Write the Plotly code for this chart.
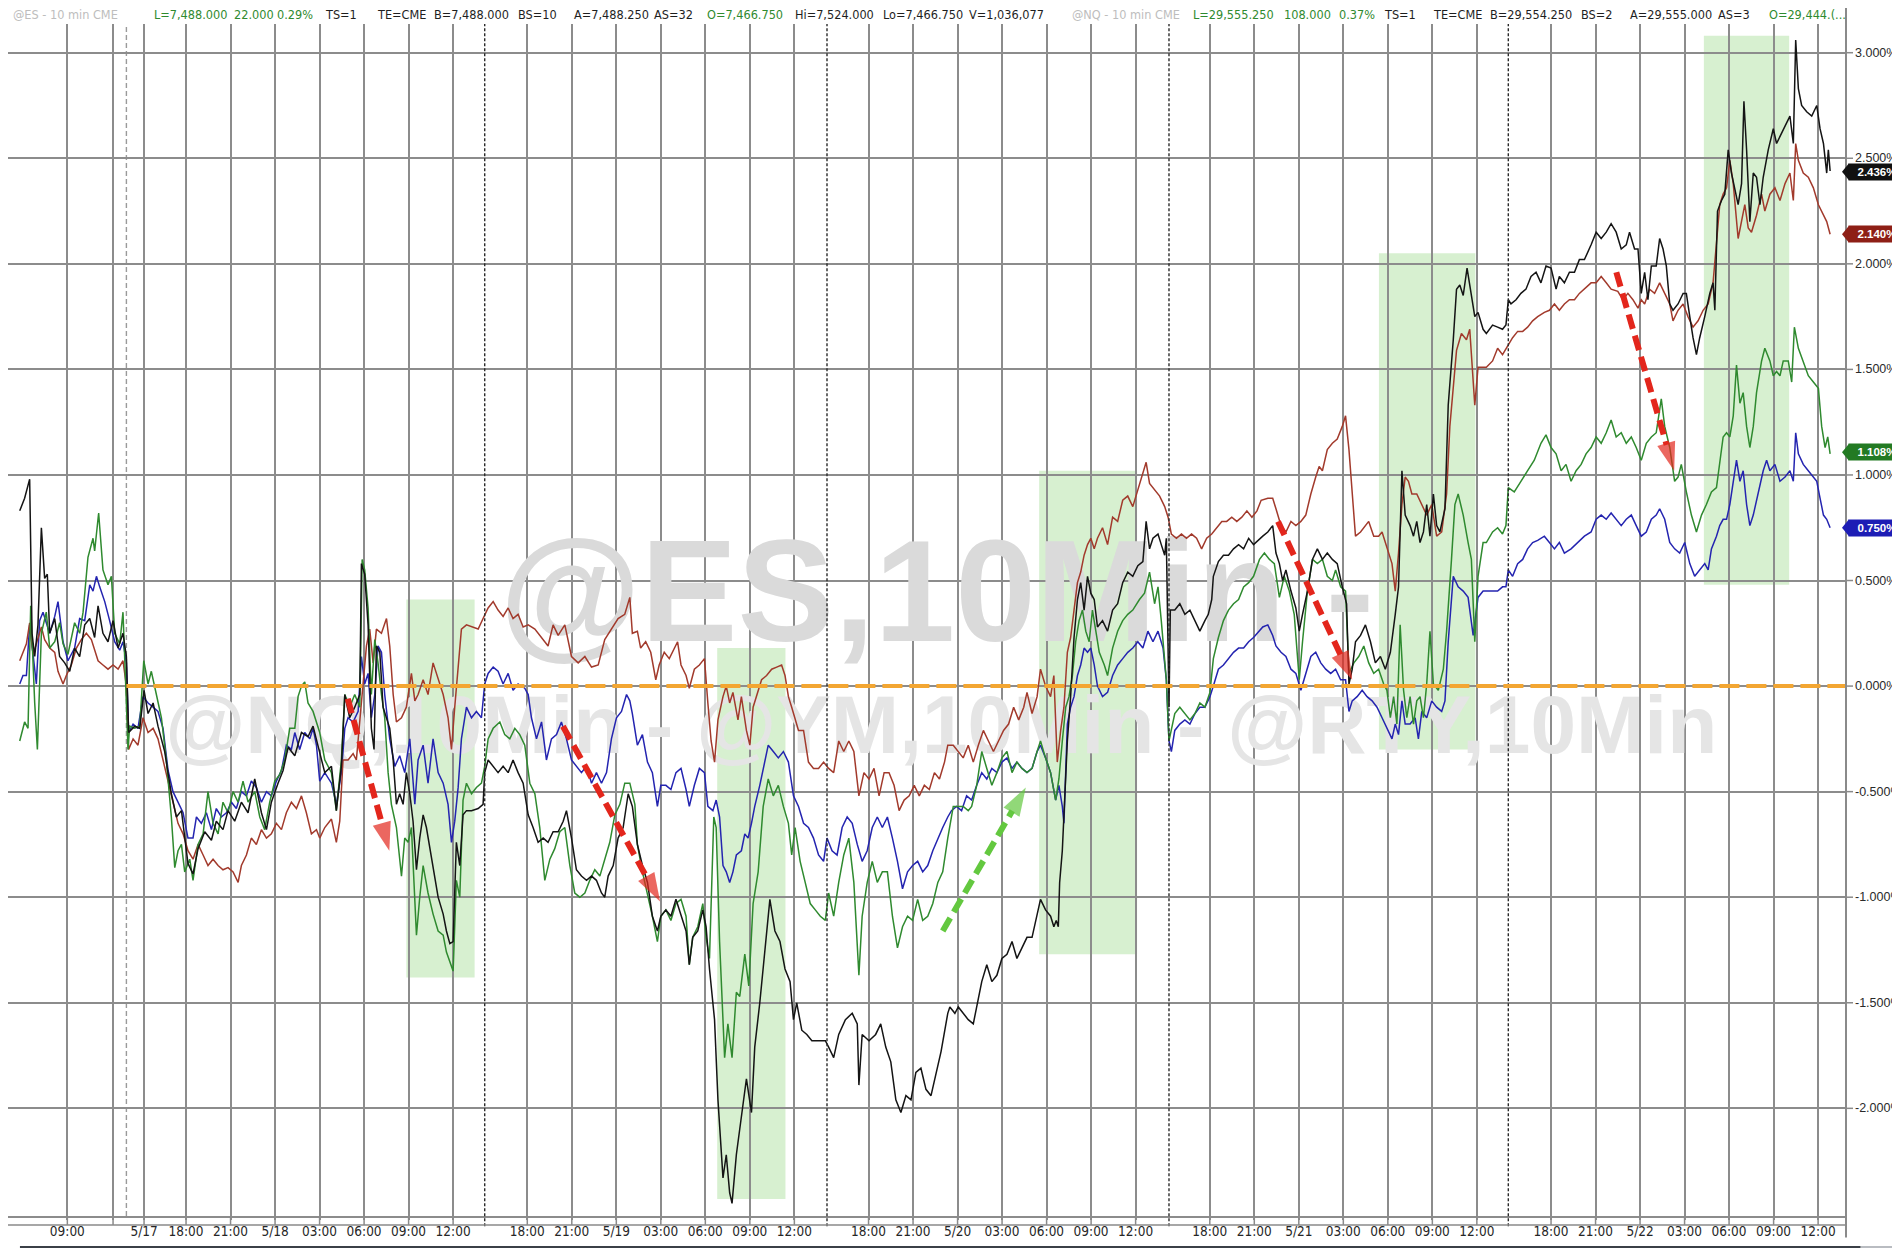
import plotly.graph_objects as go

# ---------------- data (hours of trading time since Sun 18:00, % change) ----------------
NQ_PTS = [
(-11.21,0.83),(-10.88,0.89),(-10.54,0.98),(-10.38,0.25),(-10.20,0.14),(-9.98,0.29),(-9.75,0.75),(-9.53,0.51),(-9.35,0.53),(-9.19,0.25),(-8.85,0.32),(-8.52,0.14),(-8.18,0.11),(-7.84,0.07),(-7.51,0.18),(-7.17,0.14),(-6.83,0.29),(-6.49,0.32),(-6.16,0.23),(-5.93,0.38),(-5.60,0.25),(-5.26,0.21),(-4.92,0.31),(-4.58,0.18),(-4.25,0.25),(-4.02,0.14),(-3.87,-0.22),(-3.46,-0.19),(-3.12,-0.20),(-2.83,-0.02),(-2.56,-0.13),(-2.22,-0.08),(-1.89,-0.19),(-1.44,-0.31),(-0.99,-0.51),(-0.65,-0.62),(-0.31,-0.59),(0.13,-0.84),(0.47,-0.89),(0.81,-0.77),(1.26,-0.69),(1.71,-0.73),(2.04,-0.64),(2.49,-0.68),(2.83,-0.59),(3.28,-0.64),(3.73,-0.55),(4.18,-0.60),(4.63,-0.44),(5.08,-0.60),(5.42,-0.68),(5.75,-0.55),(6.20,-0.46),(6.54,-0.40),(6.88,-0.29),(7.33,-0.33),(7.78,-0.22),(8.22,-0.24),(8.56,-0.19),(9.01,-0.31),
(9.35,-0.41),(9.80,-0.38),(10.13,-0.59),(10.47,-0.38),(10.70,-0.04),(11.03,-0.15),(11.37,-0.10),(11.71,-0.04),(11.82,0.58),(12.04,0.53),(12.27,0.29),(12.49,-0.20),(12.67,-0.30),(12.83,0.19),(13.06,0.16),(13.28,-0.10),(13.51,-0.15),(13.73,-0.20),(13.96,-0.35),(14.18,-0.56),(14.40,-0.51),(14.63,-0.56),(14.85,-0.41),(15.08,-0.51),(15.30,-0.64),(15.53,-0.87),(15.75,-0.72),(15.98,-0.61),(16.20,-0.67),(16.43,-0.77),(16.65,-0.87),(16.99,-1.00),(17.33,-1.08),(17.55,-1.16),(17.78,-1.22),(18.00,-1.21),(18.22,-0.74),(18.45,-0.85),(18.67,-0.61),(18.90,-0.59),(19.24,-0.59),(19.69,-0.58),(20.02,-0.56),(20.13,-0.41),(20.36,-0.35),(20.70,-0.38),(21.03,-0.41),(21.37,-0.38),(21.71,-0.41),(22.04,-0.35),(22.38,-0.41),(22.72,-0.46),(23.06,-0.61),(23.39,-0.67),(23.73,-0.74),(24.07,-0.72),(24.40,-0.74),(24.74,-0.69),(25.08,-0.69),(25.42,-0.64),(25.64,-0.59),(25.98,-0.72),(26.31,-0.87),(26.65,-0.90),(26.99,-0.92),(27.33,-0.90),(27.66,-0.92),(28.00,-0.98),(28.22,-1.00),(28.45,-0.90),(28.79,-0.85),(29.12,-0.72),(29.46,-0.67),(29.80,-0.51),
(30.08,-0.57),(30.42,-0.75),(30.76,-0.85),(31.10,-0.93),(31.43,-1.09),(31.77,-1.16),(32.00,-1.09),(32.34,-1.06),(32.68,-1.09),(33.02,-1.01),(33.36,-1.09),(33.70,-1.16),(33.92,-1.32),(34.15,-1.19),(34.49,-1.16),(34.83,-1.06),(35.05,-1.14),(35.28,-1.34),(35.62,-1.58),(35.85,-1.96),(36.19,-2.33),(36.41,-2.22),(36.64,-2.40),(36.80,-2.45),(37.09,-2.22),(37.43,-2.04),(37.77,-1.86),(38.11,-2.02),(38.33,-1.71),(38.67,-1.50),(39.01,-1.24),(39.35,-1.01),(39.69,-1.16),(40.03,-1.21),(40.37,-1.34),(40.71,-1.40),(40.94,-1.58),(41.16,-1.50),(41.50,-1.63),(41.84,-1.65),(42.18,-1.68),(42.63,-1.68),(43.09,-1.68),(43.31,-1.71),(43.65,-1.76),(43.99,-1.65),(44.44,-1.58),(44.90,-1.55),(45.24,-1.60),(45.35,-1.89),(45.57,-1.65),(46.03,-1.68),(46.48,-1.65),(46.82,-1.60),(47.16,-1.71),(47.50,-1.78),(47.84,-1.96),(48.18,-2.02),(48.52,-1.94),(48.86,-1.96),(49.19,-1.83),(49.53,-1.81),(49.87,-1.91),(50.21,-1.94),(50.55,-1.83),(50.89,-1.73),(51.34,-1.55),
(51.48,-1.52),(51.82,-1.55),(52.05,-1.52),(52.38,-1.55),(52.72,-1.58),(53.06,-1.60),(53.29,-1.52),(53.63,-1.40),(53.97,-1.32),(54.31,-1.40),(54.65,-1.37),(54.99,-1.29),(55.33,-1.27),(55.67,-1.21),(56.00,-1.29),(56.34,-1.24),(56.68,-1.19),(57.02,-1.19),(57.36,-1.09),(57.59,-1.01),(57.93,-1.06),(58.27,-1.09),(58.49,-1.14),(58.65,-1.11),(58.79,-1.14),(58.88,-0.93),(59.06,-0.78),(59.24,-0.52),(59.40,-0.26),(59.62,-0.05),(59.85,0.23),(60.08,0.41),(60.30,0.49),(60.53,0.36),(60.76,0.52),(60.98,0.44),(61.21,0.41),(61.43,0.28),(61.77,0.31),(62.11,0.26),(62.45,0.36),(62.79,0.39),(63.13,0.49),(63.47,0.54),(63.81,0.52),(64.15,0.57),(64.49,0.59),(64.71,0.78),(64.94,0.65),(65.17,0.70),(65.51,0.72),(65.73,0.67),(65.96,0.62),(66.07,0.70),(66.16,0.31),(66.25,-0.10),(66.34,0.36),(66.64,0.36),(66.98,0.39),(67.32,0.34),(67.66,0.36),(68.00,0.31),(68.33,0.26),(68.67,0.31),(68.90,0.34),(69.13,0.41),(69.24,0.52),(69.58,0.59),(69.92,0.62),(70.26,0.62),(70.60,0.65),(70.94,0.67),(71.28,0.65),(71.62,0.70),(71.95,0.67),
(72.57,0.71),(72.91,0.73),(73.24,0.76),(73.46,0.63),(73.69,0.58),(73.91,0.50),(74.13,0.55),(74.47,0.45),(74.80,0.37),(75.03,0.26),(75.25,0.34),(75.58,0.45),(75.92,0.60),(76.25,0.65),(76.59,0.60),(76.92,0.63),(77.26,0.60),(77.59,0.58),(77.93,0.47),(78.22,0.39),(78.38,0.01),(78.60,0.08),(78.82,0.21),(79.16,0.24),(79.49,0.29),(79.83,0.21),(80.16,0.11),(80.50,0.14),(80.83,0.08),(81.17,0.16),(81.50,0.34),(81.72,0.47),(81.95,1.02),(82.17,0.81),(82.50,0.76),(82.73,0.71),(82.95,0.78),(83.17,0.68),(83.40,0.73),(83.62,0.86),(83.84,0.71),(84.07,0.91),(84.29,0.76),(84.51,0.73),(84.85,0.84),(85.07,1.33),(85.41,1.64),(85.63,1.88),(85.85,1.90),(86.08,1.85),(86.34,1.98),(86.63,1.85),(86.86,1.75),(87.08,1.77),(87.42,1.69),(87.64,1.67),
(88.06,1.71),(88.40,1.70),(88.73,1.69),(88.96,1.71),(89.12,1.83),(89.30,1.81),(89.64,1.83),(89.97,1.86),(90.31,1.88),(90.65,1.94),(90.99,1.96),(91.32,1.91),(91.66,1.99),(92.00,1.98),(92.34,1.88),(92.56,1.94),(92.90,1.91),(93.24,1.96),(93.58,1.96),(93.91,2.02),(94.25,2.02),(94.70,2.09),(95.04,2.15),(95.38,2.12),(95.72,2.15),(96.05,2.19),(96.39,2.15),(96.73,2.07),(97.07,2.09),(97.29,2.15),(97.63,2.07),(97.86,2.07),(98.08,1.86),(98.31,1.96),(98.53,1.83),(98.76,1.99),(99.09,1.99),(99.32,2.12),(99.55,2.07),(99.77,1.99),(100.00,1.81),(100.22,1.78),(100.56,1.81),(100.90,1.86),(101.12,1.86),(101.35,1.75),(101.57,1.65),(101.80,1.57),(102.02,1.65),(102.36,1.75),(102.70,1.86),(102.92,1.91),(103.04,1.78),(103.22,2.25),(103.49,2.30),(103.71,2.33),(103.94,2.54),(104.16,2.43),(104.39,2.36),(104.61,2.28),(104.84,2.38),(105.00,2.77),(105.18,2.54),(105.40,2.20),(105.63,2.43),(105.85,2.41),(106.08,2.28),(106.30,2.41),(106.64,2.54),(106.98,2.64),(107.20,2.57),(107.54,2.62),(107.88,2.67),(108.10,2.70),(108.33,2.57),(108.49,3.06),(108.67,2.83),(108.89,2.75),(109.23,2.72),(109.57,2.70),(109.91,2.75),(110.13,2.64),(110.36,2.57),(110.58,2.43),(110.69,2.54),(110.81,2.44)
]

ES_PTS = [
(-11.21,0.12),(-10.99,0.16),(-10.76,0.20),(-10.54,0.30),(-10.31,0.15),(-10.09,0.20),(-9.75,0.28),(-9.53,0.22),(-9.19,0.18),(-8.85,0.16),(-8.63,0.07),(-8.29,0.01),(-8.07,0.05),(-7.73,0.10),(-7.39,0.18),(-7.06,0.22),(-6.72,0.25),(-6.38,0.22),(-6.16,0.17),(-5.93,0.12),(-5.60,0.10),(-5.26,0.08),(-4.92,0.10),(-4.58,0.08),(-4.25,0.12),(-4.02,0.00),(-3.87,-0.30),(-3.57,-0.25),(-3.24,-0.28),(-2.90,-0.15),(-2.56,-0.22),(-2.22,-0.20),(-1.89,-0.25),(-1.55,-0.35),(-1.21,-0.45),(-0.88,-0.55),(-0.54,-0.65),(-0.20,-0.70),(0.13,-0.78),(0.47,-0.82),(0.81,-0.75),(1.15,-0.80),(1.48,-0.85),(1.82,-0.82),(2.16,-0.85),(2.49,-0.87),(2.83,-0.86),(3.17,-0.88),(3.51,-0.93),(3.73,-0.85),(4.07,-0.80),(4.40,-0.72),(4.74,-0.75),(5.08,-0.68),(5.42,-0.72),(5.75,-0.70),(6.09,-0.65),(6.43,-0.68),(6.76,-0.60),(7.10,-0.55),(7.44,-0.58),(7.78,-0.52),(8.11,-0.60),(8.45,-0.70),(8.79,-0.68),(9.01,-0.72),
(9.35,-0.67),(9.80,-0.63),(10.13,-0.74),(10.36,-0.64),(10.58,-0.35),(10.92,-0.35),(11.26,-0.32),(11.48,-0.35),(11.71,-0.15),(11.93,0.01),(12.16,0.19),(12.38,0.27),(12.61,0.11),(12.83,0.27),(13.17,0.25),(13.51,0.32),(13.73,0.19),(13.96,-0.04),(14.18,-0.17),(14.52,-0.15),(14.85,-0.10),(15.19,0.06),(15.42,-0.07),(15.64,-0.04),(15.98,0.03),(16.31,-0.04),(16.65,0.11),(16.99,0.03),(17.33,-0.04),(17.66,-0.15),(17.89,-0.30),(18.11,-0.10),(18.34,0.11),(18.56,0.27),(18.90,0.29),(19.24,0.28),(19.69,0.27),(20.02,0.32),(20.36,0.37),(20.70,0.40),(21.03,0.36),(21.37,0.33),(21.71,0.37),(22.04,0.32),(22.38,0.34),(22.72,0.28),(23.06,0.29),(23.51,0.27),(23.96,0.23),(24.40,0.19),(24.74,0.29),(25.08,0.24),(25.53,0.29),(25.98,0.14),(26.43,0.11),(26.88,0.14),(27.33,0.09),(27.78,0.10),(28.22,0.22),(28.67,0.27),(29.12,0.32),(29.57,0.34),(29.91,0.42),
(30.08,0.25),(30.42,0.26),(30.64,0.18),(30.98,0.21),(31.32,0.16),(31.66,0.03),(31.89,0.10),(32.23,0.16),(32.57,0.13),(32.90,0.18),(33.13,0.21),(33.36,0.10),(33.70,0.05),(33.92,-0.01),(34.26,0.08),(34.60,0.10),(34.94,0.13),(35.17,-0.08),(35.39,-0.26),(35.62,-0.36),(35.85,-0.16),(36.19,-0.05),(36.41,0.00),(36.64,-0.08),(36.86,-0.03),(37.20,-0.16),(37.43,-0.05),(37.77,-0.21),(38.00,-0.28),(38.22,-0.10),(38.45,-0.05),(38.79,0.03),(39.13,0.05),(39.47,0.08),(39.81,0.09),(40.14,0.10),(40.37,0.05),(40.60,-0.05),(40.82,-0.10),(41.05,-0.16),(41.28,-0.21),(41.62,-0.21),(41.95,-0.36),(42.29,-0.39),(42.63,-0.39),(42.97,-0.36),(43.31,-0.39),(43.65,-0.41),(43.99,-0.26),(44.33,-0.31),(44.67,-0.26),(45.01,-0.31),(45.35,-0.52),(45.69,-0.41),(46.03,-0.44),(46.37,-0.39),(46.71,-0.52),(47.05,-0.41),(47.38,-0.41),(47.72,-0.47),(48.06,-0.59),(48.40,-0.54),(48.74,-0.52),(49.08,-0.47),(49.42,-0.52),(49.76,-0.47),(50.10,-0.49),(50.44,-0.41),(50.78,-0.44),(51.12,-0.36),(51.34,-0.28),
(51.71,-0.28),(52.05,-0.31),(52.38,-0.34),(52.72,-0.28),(53.06,-0.36),(53.40,-0.28),(53.74,-0.21),(54.08,-0.26),(54.42,-0.31),(54.76,-0.26),(55.10,-0.21),(55.44,-0.18),(55.78,-0.10),(56.12,-0.16),(56.46,-0.10),(56.68,-0.03),(57.02,-0.13),(57.36,-0.05),(57.59,0.08),(57.93,0.00),(58.27,-0.05),(58.49,0.05),(58.61,-0.16),(58.72,-0.36),(58.95,-0.21),(59.17,-0.10),(59.40,0.16),(59.62,0.23),(59.85,0.36),(60.08,0.49),(60.30,0.54),(60.53,0.62),(60.76,0.67),(60.98,0.70),(61.21,0.65),(61.43,0.70),(61.77,0.75),(62.11,0.67),(62.45,0.80),(62.79,0.78),(63.13,0.88),(63.47,0.90),(63.81,0.85),(64.15,0.93),(64.38,0.98),(64.71,1.06),(64.94,0.96),(65.28,0.93),(65.62,0.90),(65.96,0.85),(66.19,0.80),(66.41,0.72),(66.75,0.70),(67.09,0.72),(67.43,0.70),(67.77,0.72),(68.11,0.70),(68.45,0.65),(68.79,0.70),(69.13,0.72),(69.47,0.75),(69.81,0.78),(70.14,0.78),(70.48,0.80),(70.82,0.78),(71.16,0.80),(71.50,0.83),(71.84,0.80),(72.18,0.83),
(72.46,0.88),(72.91,0.89),(73.24,0.89),(73.46,0.84),(73.80,0.76),(74.13,0.73),(74.47,0.78),(74.80,0.76),(75.14,0.78),(75.47,0.81),(75.81,0.91),(76.14,0.99),(76.37,1.04),(76.59,1.02),(76.92,1.12),(77.26,1.15),(77.59,1.17),(77.93,1.23),(78.15,1.28),(78.38,1.12),(78.60,0.89),(78.82,0.71),(79.16,0.73),(79.49,0.76),(79.71,0.78),(80.05,0.71),(80.38,0.71),(80.61,0.73),(80.94,0.65),(81.28,0.58),(81.50,0.45),(81.72,0.63),(81.95,0.86),(82.17,0.99),(82.39,0.97),(82.62,0.91),(82.95,0.91),(83.29,0.86),(83.62,0.81),(83.96,0.86),(84.29,0.71),(84.63,0.73),(84.96,0.91),(85.18,1.23),(85.41,1.43),(85.63,1.59),(85.96,1.67),(86.30,1.64),(86.52,1.69),(86.75,1.41),(86.86,1.33),(87.08,1.51),(87.30,1.51),(87.64,1.51),
(88.06,1.54),(88.40,1.60),(88.73,1.57),(89.12,1.62),(89.41,1.65),(89.75,1.68),(90.09,1.68),(90.42,1.70),(90.76,1.73),(91.10,1.75),(91.55,1.77),(91.89,1.78),(92.23,1.81),(92.56,1.78),(92.90,1.81),(93.24,1.83),(93.58,1.83),(93.91,1.86),(94.25,1.88),(94.70,1.91),(95.04,1.91),(95.38,1.94),(95.72,1.91),(96.05,1.88),(96.50,1.87),(96.84,1.83),(97.18,1.86),(97.52,1.83),(97.86,1.79),(98.08,1.83),(98.31,1.81),(98.64,1.88),(98.98,1.86),(99.32,1.91),(99.66,1.86),(100.00,1.81),(100.22,1.73),(100.56,1.78),(100.90,1.81),(101.23,1.75),(101.57,1.70),(101.91,1.73),(102.25,1.78),(102.59,1.81),(102.92,1.91),(103.15,2.12),(103.37,2.28),(103.60,2.33),(103.83,2.36),(104.05,2.49),(104.28,2.38),(104.61,2.12),(104.84,2.20),(105.06,2.28),(105.29,2.17),(105.51,2.15),(105.85,2.23),(106.19,2.33),(106.41,2.25),(106.75,2.33),(107.09,2.36),(107.43,2.30),(107.77,2.38),(108.10,2.43),(108.33,2.30),(108.49,2.57),(108.67,2.49),(109.00,2.43),(109.34,2.41),(109.68,2.36),(110.02,2.28),(110.36,2.23),(110.58,2.20),(110.81,2.14)
]

RTY_PTS = [
(-11.21,-0.26),(-10.88,-0.17),(-10.65,-0.20),(-10.47,0.38),(-10.20,-0.08),(-10.02,-0.30),(-9.75,0.25),(-9.42,0.35),(-9.19,0.18),(-8.85,0.21),(-8.52,0.30),(-8.29,0.20),(-7.96,0.15),(-7.51,0.30),(-7.17,0.25),(-6.94,0.35),(-6.61,0.61),(-6.27,0.70),(-6.16,0.64),(-5.89,0.82),(-5.60,0.55),(-5.26,0.48),(-5.03,0.52),(-4.81,0.25),(-4.47,0.20),(-4.25,0.35),(-4.09,0.05),(-3.91,-0.30),(-3.80,-0.19),(-3.46,-0.20),(-3.12,-0.19),(-2.85,0.12),(-2.56,0.01),(-2.34,0.07),(-2.00,-0.04),(-1.66,-0.15),(-1.33,-0.35),(-0.99,-0.62),(-0.76,-0.86),(-0.54,-0.78),(-0.31,-0.75),(-0.09,-0.88),(0.25,-0.82),(0.47,-0.92),(0.81,-0.75),(1.15,-0.70),(1.48,-0.50),(1.82,-0.65),(2.16,-0.70),(2.49,-0.55),(2.83,-0.60),(3.17,-0.50),(3.51,-0.55),(3.84,-0.45),(4.18,-0.55),(4.63,-0.50),(4.97,-0.62),(5.30,-0.68),(5.64,-0.55),(5.98,-0.45),(6.31,-0.42),(6.65,-0.35),(6.99,-0.20),(7.33,-0.20),(7.55,-0.05),(7.78,0.00),(8.00,0.02),(8.22,-0.08),(8.56,-0.12),(9.01,-0.22),
(9.35,-0.35),(9.80,-0.41),(10.13,-0.59),(10.47,-0.35),(10.70,-0.04),(11.03,-0.10),(11.37,-0.04),(11.71,-0.10),(11.87,0.60),(12.04,0.55),(12.27,0.37),(12.49,-0.04),(12.72,0.22),(12.94,0.11),(13.17,-0.04),(13.39,-0.15),(13.62,-0.41),(13.84,-0.56),(14.18,-0.67),(14.52,-0.90),(14.74,-0.72),(14.97,-0.74),(15.19,-0.67),(15.53,-1.18),(15.75,-1.00),(15.98,-0.85),(16.31,-0.98),(16.65,-1.08),(16.99,-1.16),(17.33,-1.18),(17.55,-1.26),(17.78,-1.31),(18.00,-1.35),(18.22,-0.92),(18.45,-1.00),(18.67,-0.54),(18.90,-0.46),(19.24,-0.51),(19.57,-0.48),(19.91,-0.46),(20.13,-0.38),(20.36,-0.25),(20.70,-0.20),(21.15,-0.17),(21.48,-0.23),(21.82,-0.25),(22.16,-0.20),(22.49,-0.23),(22.83,-0.28),(23.17,-0.46),(23.51,-0.51),(23.84,-0.67),(24.18,-0.92),(24.52,-0.82),(24.85,-0.77),(25.19,-0.69),(25.53,-0.67),(25.87,-0.85),(26.20,-0.98),(26.54,-1.00),(26.88,-0.98),(27.21,-0.92),(27.55,-0.87),(27.89,-0.90),(28.22,-0.82),(28.56,-0.74),(28.90,-0.61),(29.24,-0.56),(29.57,-0.46),(29.91,-0.46),(30.25,-0.56),
(30.42,-0.75),(30.76,-0.88),(31.10,-0.98),(31.43,-1.09),(31.77,-1.21),(32.00,-1.09),(32.34,-1.06),(32.68,-1.11),(33.02,-1.03),(33.36,-1.01),(33.70,-1.09),(33.92,-1.32),(34.15,-1.19),(34.49,-1.14),(34.83,-1.03),(35.05,-1.19),(35.28,-1.29),(35.57,-0.62),(35.73,-0.67),(35.96,-1.21),(36.30,-1.76),(36.52,-1.60),(36.80,-1.76),(37.09,-1.45),(37.32,-1.47),(37.66,-1.27),(37.93,-1.42),(38.22,-1.03),(38.56,-0.88),(38.90,-0.57),(39.24,-0.44),(39.58,-0.52),(39.92,-0.47),(40.26,-0.57),(40.60,-0.65),(40.82,-0.80),(41.05,-0.67),(41.39,-0.83),(41.73,-0.93),(42.07,-1.03),(42.41,-1.06),(42.75,-1.09),(43.09,-1.11),(43.31,-0.98),(43.65,-1.09),(43.99,-0.93),(44.33,-0.80),(44.67,-0.72),(45.01,-0.93),(45.35,-1.37),(45.57,-1.09),(45.91,-0.93),(46.25,-0.83),(46.59,-0.93),(46.93,-0.88),(47.27,-0.88),(47.61,-1.09),(47.95,-1.24),(48.29,-1.14),(48.63,-1.09),(48.97,-1.11),(49.31,-1.01),(49.65,-1.11),(49.99,-1.09),(50.33,-1.03),(50.67,-0.93),(51.00,-0.88),(51.34,-0.72),
(51.71,-0.57),(52.05,-0.57),(52.38,-0.57),(52.72,-0.59),(52.95,-0.57),(53.29,-0.47),(53.63,-0.31),(53.97,-0.39),(54.31,-0.47),(54.65,-0.41),(54.99,-0.34),(55.33,-0.31),(55.67,-0.41),(56.00,-0.36),(56.34,-0.39),(56.68,-0.41),(57.02,-0.39),(57.36,-0.31),(57.59,-0.26),(57.93,-0.34),(58.27,-0.41),(58.61,-0.54),(58.83,-0.44),(59.06,-0.26),(59.29,-0.10),(59.51,-0.05),(59.74,0.05),(59.96,0.21),(60.19,0.31),(60.42,0.36),(60.64,0.26),(60.87,0.21),(61.09,0.36),(61.32,0.26),(61.55,0.16),(61.89,0.10),(62.11,0.05),(62.45,0.18),(62.79,0.26),(63.13,0.31),(63.47,0.34),(63.81,0.36),(64.26,0.41),(64.60,0.44),(64.94,0.54),(65.28,0.39),(65.51,0.47),(65.73,0.31),(66.07,0.03),(66.25,-0.26),(66.41,-0.21),(66.64,-0.13),(66.98,-0.10),(67.32,-0.13),(67.66,-0.16),(68.00,-0.13),(68.33,-0.08),(68.67,-0.10),(69.01,-0.03),(69.24,0.13),(69.58,0.23),(69.92,0.31),(70.26,0.36),(70.60,0.39),(70.94,0.41),(71.28,0.47),(71.62,0.49),(71.95,0.52),
(72.35,0.60),(72.68,0.63),(73.02,0.60),(73.35,0.58),(73.69,0.42),(74.02,0.52),(74.36,0.45),(74.69,0.34),(75.03,0.03),(75.25,0.21),(75.58,0.45),(75.92,0.60),(76.25,0.58),(76.59,0.60),(76.92,0.52),(77.26,0.50),(77.48,0.55),(77.82,0.47),(78.15,0.45),(78.38,0.06),(78.71,0.11),(79.04,0.14),(79.38,0.19),(79.71,0.11),(80.05,0.06),(80.38,0.08),(80.72,0.01),(80.94,-0.02),(81.17,-0.15),(81.39,-0.05),(81.61,-0.18),(81.83,0.29),(82.06,-0.02),(82.28,-0.15),(82.50,-0.05),(82.73,-0.18),(82.95,-0.07),(83.17,-0.05),(83.40,-0.15),(83.62,0.01),(83.84,0.26),(84.07,0.01),(84.40,-0.02),(84.74,0.08),(84.96,0.26),(85.29,0.60),(85.52,0.86),(85.74,0.91),(86.08,0.81),(86.41,0.68),(86.63,0.60),(86.86,0.21),(87.08,0.52),(87.42,0.68),(87.64,0.68),
(88.06,0.73),(88.40,0.75),(88.73,0.72),(88.96,0.76),(89.12,0.94),(89.52,0.92),(89.97,0.97),(90.42,1.02),(90.87,1.07),(91.32,1.15),(91.66,1.19),(92.00,1.13),(92.34,1.10),(92.68,1.02),(93.01,1.05),(93.35,0.97),(93.69,1.02),(94.03,1.05),(94.36,1.10),(94.70,1.13),(95.04,1.18),(95.38,1.15),(95.72,1.20),(96.05,1.26),(96.39,1.18),(96.73,1.20),(97.07,1.15),(97.41,1.18),(97.74,1.13),(98.08,1.07),(98.42,1.15),(98.76,1.18),(99.09,1.20),(99.43,1.36),(99.66,1.23),(100.00,1.13),(100.33,0.97),(100.56,0.99),(100.78,1.05),(101.12,0.92),(101.46,0.81),(101.80,0.73),(102.14,0.81),(102.47,0.86),(102.81,0.92),(103.15,0.94),(103.37,1.07),(103.60,1.18),(103.83,1.20),(104.05,1.18),(104.28,1.28),(104.50,1.52),(104.73,1.34),(104.95,1.39),(105.18,1.23),(105.40,1.13),(105.63,1.23),(105.85,1.39),(106.19,1.54),(106.41,1.60),(106.75,1.54),(106.98,1.47),(107.20,1.49),(107.43,1.47),(107.65,1.54),(107.99,1.54),(108.22,1.44),(108.40,1.70),(108.67,1.60),(109.00,1.54),(109.34,1.47),(109.68,1.44),(110.02,1.41),(110.24,1.23),(110.47,1.13),(110.65,1.18),(110.81,1.10)
]

YM_PTS = [
(-11.21,0.01),(-10.99,0.05),(-10.76,0.05),(-10.54,0.29),(-10.31,0.15),(-10.09,0.01),(-9.87,0.31),(-9.64,0.35),(-9.42,0.30),(-9.19,0.25),(-8.85,0.33),(-8.63,0.40),(-8.29,0.21),(-7.96,0.12),(-7.51,0.18),(-7.17,0.32),(-6.83,0.31),(-6.49,0.48),(-6.27,0.45),(-6.04,0.52),(-5.82,0.47),(-5.48,0.40),(-5.15,0.31),(-4.81,0.21),(-4.47,0.17),(-4.25,0.21),(-4.02,0.11),(-3.87,-0.22),(-3.57,-0.18),(-3.24,-0.20),(-2.90,-0.05),(-2.56,-0.08),(-2.22,-0.10),(-1.89,-0.12),(-1.55,-0.20),(-1.21,-0.40),(-0.88,-0.50),(-0.54,-0.55),(-0.20,-0.60),(0.13,-0.72),(0.47,-0.72),(0.70,-0.62),(1.03,-0.65),(1.37,-0.60),(1.71,-0.68),(2.04,-0.58),(2.38,-0.62),(2.72,-0.60),(3.06,-0.55),(3.39,-0.58),(3.73,-0.50),(4.07,-0.52),(4.40,-0.45),(4.74,-0.48),(5.08,-0.55),(5.42,-0.50),(5.75,-0.52),(6.09,-0.45),(6.43,-0.40),(6.76,-0.28),(7.10,-0.30),(7.33,-0.22),(7.66,-0.30),(8.00,-0.22),(8.34,-0.25),(8.56,-0.20),(8.79,-0.28),(9.01,-0.45),
(9.35,-0.41),(9.80,-0.46),(10.13,-0.56),(10.47,-0.41),(10.70,-0.20),(10.92,-0.15),(11.26,-0.17),(11.60,-0.12),(11.82,0.14),(12.04,0.01),(12.27,0.06),(12.49,-0.15),(12.72,-0.04),(12.94,0.19),(13.17,0.16),(13.39,-0.04),(13.73,-0.25),(14.07,-0.38),(14.40,-0.33),(14.74,-0.41),(15.08,-0.25),(15.42,-0.56),(15.64,-0.35),(15.98,-0.28),(16.31,-0.46),(16.65,-0.25),(16.99,-0.41),(17.33,-0.46),(17.66,-0.56),(17.89,-0.74),(18.11,-0.64),(18.34,-0.48),(18.56,-0.25),(18.90,-0.10),(19.24,-0.15),(19.57,-0.12),(19.91,-0.15),(20.13,0.01),(20.36,0.06),(20.70,0.09),(21.03,0.07),(21.37,0.01),(21.71,0.06),(22.04,-0.02),(22.38,0.01),(22.83,-0.01),(23.06,-0.04),(23.28,-0.15),(23.62,-0.25),(23.96,-0.17),(24.29,-0.35),(24.63,-0.25),(24.97,-0.23),(25.30,-0.17),(25.64,-0.25),(25.98,-0.35),(26.31,-0.38),(26.65,-0.41),(26.99,-0.38),(27.33,-0.46),(27.66,-0.41),(28.00,-0.46),(28.34,-0.41),(28.67,-0.25),(29.01,-0.15),(29.35,-0.12),(29.69,-0.04),(29.91,-0.07),
(30.08,-0.13),(30.42,-0.28),(30.76,-0.23),(31.10,-0.36),(31.43,-0.41),(31.77,-0.57),(32.00,-0.47),(32.34,-0.47),(32.68,-0.49),(33.02,-0.41),(33.36,-0.39),(33.70,-0.49),(33.92,-0.57),(34.26,-0.47),(34.60,-0.39),(34.94,-0.41),(35.17,-0.57),(35.51,-0.59),(35.73,-0.54),(35.96,-0.62),(36.19,-0.85),(36.41,-0.88),(36.64,-0.93),(36.86,-0.88),(37.09,-0.80),(37.43,-0.78),(37.66,-0.70),(37.88,-0.72),(38.11,-0.65),(38.33,-0.57),(38.67,-0.47),(39.01,-0.36),(39.24,-0.28),(39.58,-0.31),(39.92,-0.34),(40.26,-0.31),(40.60,-0.36),(40.94,-0.52),(41.28,-0.57),(41.62,-0.65),(41.95,-0.67),(42.29,-0.72),(42.63,-0.80),(42.97,-0.83),(43.20,-0.72),(43.54,-0.78),(43.88,-0.80),(44.22,-0.67),(44.56,-0.62),(44.90,-0.65),(45.24,-0.75),(45.57,-0.83),(45.91,-0.78),(46.25,-0.67),(46.59,-0.62),(46.93,-0.67),(47.27,-0.62),(47.61,-0.72),(47.95,-0.83),(48.29,-0.96),(48.63,-0.88),(48.97,-0.85),(49.31,-0.83),(49.65,-0.88),(49.99,-0.85),(50.33,-0.78),(50.67,-0.72),(51.00,-0.67),(51.34,-0.62),
(51.59,-0.59),(51.93,-0.57),(52.27,-0.59),(52.61,-0.52),(52.95,-0.54),(53.29,-0.47),(53.63,-0.41),(53.97,-0.44),(54.31,-0.39),(54.65,-0.41),(54.99,-0.36),(55.33,-0.34),(55.67,-0.39),(56.00,-0.36),(56.34,-0.39),(56.68,-0.41),(57.02,-0.39),(57.36,-0.31),(57.59,-0.28),(57.93,-0.34),(58.27,-0.41),(58.61,-0.54),(58.83,-0.47),(59.06,-0.57),(59.17,-0.65),(59.40,-0.18),(59.62,-0.10),(59.85,-0.05),(60.08,0.05),(60.30,0.10),(60.53,0.18),(60.76,0.16),(60.98,0.18),(61.21,0.10),(61.43,0.00),(61.77,-0.05),(62.11,-0.03),(62.45,0.05),(62.79,0.10),(63.13,0.13),(63.47,0.16),(63.81,0.18),(64.15,0.21),(64.49,0.18),(64.83,0.26),(65.17,0.21),(65.51,0.26),(65.85,0.18),(66.07,0.03),(66.25,-0.26),(66.41,-0.31),(66.64,-0.21),(66.98,-0.18),(67.32,-0.16),(67.66,-0.18),(68.00,-0.13),(68.33,-0.10),(68.67,-0.10),(69.01,-0.05),(69.24,0.00),(69.58,0.08),(69.92,0.10),(70.26,0.13),(70.60,0.16),(70.94,0.18),(71.28,0.18),(71.62,0.21),(71.95,0.23),
(72.57,0.28),(72.91,0.29),(73.24,0.24),(73.46,0.19),(73.80,0.16),(74.13,0.14),(74.47,0.08),(74.80,0.06),(75.14,-0.02),(75.47,0.06),(75.81,0.14),(76.14,0.16),(76.48,0.11),(76.81,0.08),(77.15,0.06),(77.48,0.08),(77.82,0.03),(78.15,0.03),(78.38,-0.12),(78.60,-0.07),(78.93,-0.05),(79.27,-0.02),(79.60,-0.05),(79.94,-0.07),(80.27,-0.10),(80.61,-0.15),(80.94,-0.20),(81.28,-0.25),(81.50,-0.18),(81.72,-0.23),(81.95,-0.07),(82.17,-0.18),(82.50,-0.18),(82.84,-0.15),(83.06,-0.25),(83.29,-0.12),(83.62,-0.15),(83.96,-0.07),(84.29,-0.10),(84.63,-0.12),(84.85,-0.07),(85.07,0.21),(85.41,0.52),(85.74,0.47),(86.08,0.45),(86.41,0.42),(86.75,0.24),(87.08,0.42),(87.42,0.45),(87.64,0.45),
(88.06,0.45),(88.40,0.45),(88.73,0.47),(88.96,0.47),(89.12,0.55),(89.41,0.52),(89.75,0.58),(90.09,0.60),(90.42,0.65),(90.76,0.68),(91.10,0.69),(91.55,0.71),(91.89,0.68),(92.23,0.65),(92.56,0.68),(92.90,0.63),(93.35,0.65),(93.80,0.68),(94.25,0.71),(94.70,0.73),(95.04,0.79),(95.38,0.81),(95.72,0.79),(96.05,0.82),(96.39,0.79),(96.73,0.76),(97.07,0.79),(97.41,0.81),(97.74,0.76),(98.08,0.71),(98.42,0.73),(98.76,0.79),(99.09,0.81),(99.32,0.84),(99.66,0.79),(100.00,0.68),(100.33,0.65),(100.67,0.63),(101.01,0.68),(101.35,0.58),(101.68,0.52),(102.02,0.55),(102.36,0.58),(102.59,0.55),(102.81,0.65),(103.15,0.71),(103.37,0.76),(103.60,0.79),(103.83,0.79),(104.05,0.86),(104.28,0.97),(104.50,1.07),(104.73,0.97),(104.95,1.02),(105.18,0.86),(105.40,0.76),(105.63,0.81),(105.96,0.92),(106.30,1.02),(106.53,1.07),(106.75,1.02),(107.09,1.05),(107.43,0.97),(107.77,0.99),(108.10,1.02),(108.33,0.97),(108.49,1.20),(108.67,1.10),(109.00,1.05),(109.34,1.02),(109.68,0.99),(109.91,0.97),(110.13,0.89),(110.36,0.81),(110.58,0.79),(110.81,0.75)
]

LAST_VALUES = {"NQ": 2.436, "ES": 2.140, "RTY": 1.108, "YM": 0.750}

TICK_POS = [-8, -4.92, -2.83, 0, 3, 6, 9, 12, 15, 18, 23, 26, 29, 32, 35, 38, 41,
            46, 49, 52, 55, 58, 61, 64, 69, 72, 75, 78, 81, 84, 87, 92, 95, 98, 101, 104, 107, 110]
TICK_TEXT = ["09:00", "", "5/17", "18:00", "21:00", "5/18", "03:00", "06:00", "09:00", "12:00",
             "18:00", "21:00", "5/19", "03:00", "06:00", "09:00", "12:00",
             "18:00", "21:00", "5/20", "03:00", "06:00", "09:00", "12:00",
             "18:00", "21:00", "5/21", "03:00", "06:00", "09:00", "12:00",
             "18:00", "21:00", "5/22", "03:00", "06:00", "09:00", "12:00"]
Y_TICKS = [-2.0, -1.5, -1.0, -0.5, 0.0, 0.5, 1.0, 1.5, 2.0, 2.5, 3.0]

SESSION_BREAKS = [20.13, 43.2, 66.25, 89.12]
WEEKEND_BREAK = -4.02

# cash-session highlight boxes: (t0, t1, v0, v1)
HIGHLIGHTS = [(14.85, 19.45, -1.38, 0.41), (35.8, 40.4, -2.43, 0.18), (57.5, 64.1, -1.27, 1.02),
              (80.4, 86.9, -0.30, 2.05), (102.3, 108.05, 0.48, 3.08)]

# annotation arrows: (t_start, v_start, t_end, v_end, kind)
ARROWS = [(10.9, -0.06, 13.7, -0.78, "down"), (25.4, -0.19, 31.95, -1.02, "down"),
          (51.0, -1.16, 56.6, -0.48, "up"), (73.6, 0.78, 78.6, 0.03, "down"),
          (96.4, 1.96, 100.3, 1.02, "down")]

HEADER = [("@ES - 10 min CME", 3, "g"), ("L=7,488.000", 144, "G"), ("22.000", 224, "G"), ("0.29%", 267, "G"),
          ("TS=1", 315, "k"), ("TE=CME", 367, "k"), ("B=7,488.000", 424, "k"), ("BS=10", 508, "k"),
          ("A=7,488.250", 564, "k"), ("AS=32", 644, "k"), ("O=7,466.750", 697, "G"), ("Hi=7,524.000", 785, "k"),
          ("Lo=7,466.750", 873, "k"), ("V=1,036,077", 959, "k"), ("@NQ - 10 min CME", 1062, "g"),
          ("L=29,555.250", 1183, "G"), ("108.000", 1274, "G"), ("0.37%", 1329, "G"), ("TS=1", 1374, "k"),
          ("TE=CME", 1423, "k"), ("B=29,554.250", 1480, "k"), ("BS=2", 1571, "k"), ("A=29,555.000", 1620, "k"),
          ("AS=3", 1708, "k"), ("O=29,444.(...", 1759, "G")]

# ---------------- figure ----------------
W, Hh = 1900, 1248
ML, MR, MT, MB = 0, 62, 16, 40
PW, PH = W - ML - MR, Hh - MT - MB
X_RANGE = [-12.0, 111.88]
Y_RANGE = [-2.51, 3.136]

NARROW = "Liberation Sans Narrow, Arial Narrow, DejaVu Sans Condensed, sans-serif"
ARIAL = "Liberation Sans, Arial, Helvetica, sans-serif"

SER = [("YM", YM_PTS, "#2424b0"), ("ES", ES_PTS, "#a23a2c"), ("RTY", RTY_PTS, "#2f8a2f"), ("NQ", NQ_PTS, "#141414")]

fig = go.Figure()

# watermark (drawn first so it sits beneath the lines)
fig.add_trace(go.Scatter(x=[50.6], y=[0.385], mode="text", text=["<b>@ES,10Min -</b>"],
                         textfont=dict(family=ARIAL, size=145, color="#dadada"),
                         hoverinfo="skip", showlegend=False))
fig.add_trace(go.Scatter(x=[50.9], y=[-0.22], mode="text", text=["<b>@NQ,10Min - @YM,10Min - @RTY,10Min</b>"],
                         textfont=dict(family=ARIAL, size=82, color="#e5e5e5"),
                         hoverinfo="skip", showlegend=False))

for name, pts, col in SER:
    fig.add_trace(go.Scatter(x=[p[0] for p in pts], y=[p[1] for p in pts], mode="lines", name=name,
                             line=dict(color=col, width=1.5), hoverinfo="skip", showlegend=False))

# arrows
for t0, v0, t1, v1, kind in ARROWS:
    col = "#e3261c" if kind == "down" else "#63c83f"
    fig.add_trace(go.Scatter(x=[t0, t1], y=[v0, v1], mode="lines+markers",
                             line=dict(color=col, width=6, dash="15px,7px"),
                             marker=dict(symbol=["circle", "arrow"], size=[13, 30], color=col,
                                         angleref="previous", line=dict(width=0)),
                             hoverinfo="skip", showlegend=False))

shapes = []
for t0, t1, v0, v1 in HIGHLIGHTS:
    shapes.append(dict(type="rect", xref="x", yref="y", x0=t0, x1=t1, y0=v0, y1=v1,
                       fillcolor="#d7f0d0", line=dict(width=0), layer="below"))
for tb in SESSION_BREAKS:
    shapes.append(dict(type="line", xref="x", yref="paper", x0=tb, x1=tb, y0=-0.0085, y1=1,
                       line=dict(color="#2a2a2a", width=1.4, dash="3px,2px"), layer="above"))
shapes.append(dict(type="line", xref="x", yref="paper", x0=WEEKEND_BREAK, x1=WEEKEND_BREAK, y0=0, y1=1,
                   line=dict(color="#9a9a9a", width=1.4, dash="5px,3px"), layer="below"))
# zero reference line
shapes.append(dict(type="line", xref="x", yref="y", x0=WEEKEND_BREAK, x1=X_RANGE[1], y0=0, y1=0,
                   line=dict(color="#f3a632", width=4, dash="20px,7px"), layer="above"))
# time-axis band: second line and tick marks crossing it
shapes.append(dict(type="line", xref="paper", yref="paper", x0=0, x1=1, y0=-0.0075, y1=-0.0075,
                   line=dict(color="#8a8a8a", width=1.5)))
for tp in TICK_POS:
    shapes.append(dict(type="line", xref="x", yref="paper", x0=tp, x1=tp, y0=0, y1=-0.0075,
                       line=dict(color="#8a8a8a", width=1.5)))
# right value-axis tick marks
for v in Y_TICKS:
    shapes.append(dict(type="line", xref="paper", yref="y", x0=1, x1=1 + 7 / PW, y0=v, y1=v,
                       line=dict(color="#8a8a8a", width=1.5)))
# right axis line runs to the top of the picture
shapes.append(dict(type="line", xref="paper", yref="paper", x0=1, x1=1, y0=-0.018, y1=1 + MT / PH,
                   line=dict(color="#8a8a8a", width=2)))
# bottom scroll bar
shapes.append(dict(type="rect", xref="paper", yref="paper", x0=0.0065, x1=1.008, y0=-0.0252, y1=-0.034,
                   fillcolor="#3b4047", line=dict(width=0)))
shapes.append(dict(type="rect", xref="paper", yref="paper", x0=1.008, x1=1.034, y0=-0.0252, y1=-0.034,
                   fillcolor="#b9bcc1", line=dict(width=0)))

annotations = []
hdr_col = {"g": "#bdbdbd", "G": "#2f8a2f", "k": "#1e1e1e"}
for txt, xf, c in HEADER:
    annotations.append(dict(text=txt, xref="paper", yref="paper", x=xf / PW, y=1 + 9 / PH,
                            xanchor="left", yanchor="middle", showarrow=False,
                            font=dict(family=NARROW, size=12.6, color=hdr_col[c])))

# right value-axis labels
for v in Y_TICKS:
    annotations.append(dict(text="%.3f%%" % v, xref="paper", yref="y", x=1 + 7 / PW, y=v,
                            xanchor="left", yanchor="middle", showarrow=False, xshift=0,
                            font=dict(family=ARIAL, size=12.5, color="#2a2a2a")))

TAGS = [("NQ", "#111111"), ("ES", "#8e1f16"), ("RTY", "#237a23"), ("YM", "#1d1db5")]
for key, bg in TAGS:
    v = LAST_VALUES[key]
    annotations.append(dict(text="<b>%.3f%%</b>" % v, xref="paper", yref="y", x=1.0, y=v,
                            xanchor="left", yanchor="middle", xshift=2, showarrow=False,
                            bgcolor=bg, borderpad=2, width=52, align="center",
                            font=dict(family=ARIAL, size=11.5, color="white")))
    d = 8.5 / PH * (Y_RANGE[1] - Y_RANGE[0])
    shapes.append(dict(type="path", xref="paper", yref="y",
                       path="M %.5f,%.4f L %.5f,%.4f L %.5f,%.4f Z" % (1 + 3 / PW, v + d, 1 - 4 / PW, v, 1 + 3 / PW, v - d),
                       fillcolor=bg, line=dict(width=0)))

fig.update_layout(
    width=W, height=Hh, margin=dict(l=ML, r=MR, t=MT, b=MB),
    paper_bgcolor="white", plot_bgcolor="white", showlegend=False, hovermode=False,
    shapes=shapes, annotations=annotations,
    xaxis=dict(range=X_RANGE, tickmode="array", tickvals=TICK_POS, ticktext=TICK_TEXT,
               showgrid=True, gridcolor="#8c8c8c", gridwidth=1.5, zeroline=False,
               ticks="outside", ticklen=2, tickwidth=1.5, tickcolor="#8c8c8c",
               showline=True, linecolor="#8c8c8c", linewidth=1.5,
               tickfont=dict(family=NARROW, size=13.5, color="#262626")),
    yaxis=dict(range=Y_RANGE, side="right", tickmode="array", tickvals=Y_TICKS,
               showticklabels=False, ticks="",
               showgrid=True, gridcolor="#8c8c8c", gridwidth=1.5, zeroline=False,
               showline=False),
)

fig.write_html("out.html")
